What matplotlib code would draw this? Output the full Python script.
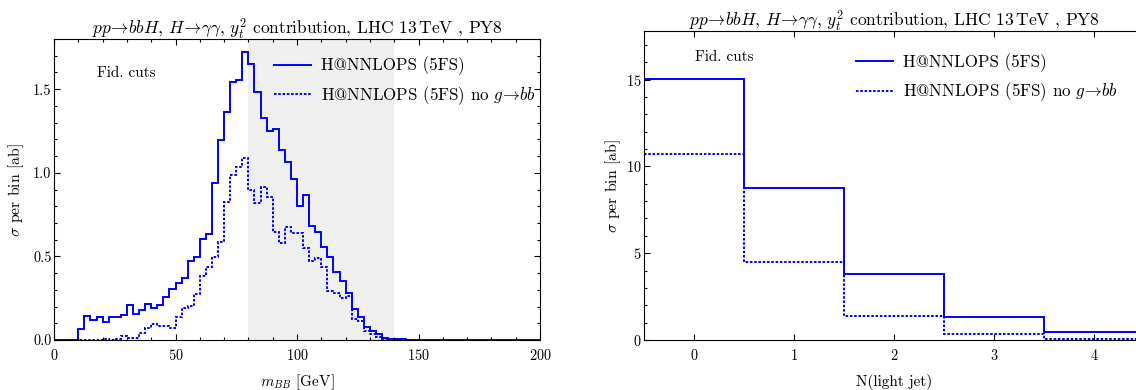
import numpy as np
import matplotlib
matplotlib.use("Agg")
import matplotlib.pyplot as plt
from matplotlib.ticker import MultipleLocator, FormatStrFormatter

plt.rcParams["font.family"] = ["cmr10", "DejaVu Serif"]
plt.rcParams["mathtext.fontset"] = "cm"
plt.rcParams["axes.unicode_minus"] = False
plt.rcParams["axes.formatter.use_mathtext"] = True

# m_BB histogram, 2.5 GeV bins from 0 to 200
mbb_edges = np.arange(0, 200.1, 2.5)
mbb_full = [
    0, 0, 0, 0, 0.068, 0.144, 0.12, 0.14, 0.108, 0.14,
    0.14, 0.15, 0.208, 0.154, 0.178, 0.218, 0.194, 0.208, 0.256, 0.306,
    0.338, 0.368, 0.472, 0.494, 0.606, 0.632, 0.94, 1.198, 1.362, 1.542,
    1.552, 1.724, 1.648, 1.482, 1.33, 1.248, 1.262, 1.138, 1.062, 0.964,
    0.8, 0.868, 0.682, 0.644, 0.558, 0.498, 0.408, 0.354, 0.28, 0.188,
    0.14, 0.08, 0.054, 0.034, 0.014, 0.006, 0.003, 0.003, 0.002, 0.002,
    0.002, 0.002, 0.002, 0.002, 0.002, 0.002, 0.002, 0.002, 0.002, 0.002,
    0.002, 0.002, 0.002, 0.002, 0.002, 0.002, 0.002, 0.002, 0.002, 0.002,
]
mbb_nog2bb = [
    0, 0, 0, 0, 0, 0, 0, 0, 0.004, 0.002,
    0.004, 0.024, 0.014, 0.014, 0.044, 0.07, 0.094, 0.084, 0.084, 0.074,
    0.138, 0.194, 0.204, 0.274, 0.38, 0.434, 0.494, 0.584, 0.824, 0.984,
    1.034, 1.09, 0.898, 0.82, 0.914, 0.858, 0.644, 0.578, 0.674, 0.638,
    0.638, 0.55, 0.474, 0.49, 0.438, 0.294, 0.28, 0.25, 0.264, 0.124,
    0.114, 0.054, 0.038, 0.018, 0.008, 0.003, 0.002, 0.002, 0.002, 0.002,
    0.002, 0.002, 0.002, 0.002, 0.002, 0.002, 0.002, 0.002, 0.002, 0.002,
    0.002, 0.002, 0.002, 0.002, 0.002, 0.002, 0.002, 0.002, 0.002, 0.002,
]

# light-jet multiplicity
njet_edges = [-0.5, 0.5, 1.5, 2.5, 3.5, 4.5]
njet_full = [15.04, 8.73, 3.82, 1.34, 0.46]
njet_nog2bb = [10.70, 4.51, 1.40, 0.345, 0.08]

title = (r"$pp\!\to\! bbH$, $H\!\to\!\gamma\gamma$, $y_t^2$ contribution, "
         r"LHC $13\,\mathrm{TeV}$ , PY8")
lab_full = "H@NNLOPS (5FS)"
lab_nog2bb = r"H@NNLOPS (5FS) no $g\!\to\! bb$"

blue = "#0000ff"
dots = (0, (1.3, 0.9))
W, H = 1136, 390

fig = plt.figure(figsize=(W / 100, H / 100), dpi=100)


def px_axes(x0, x1, ytop, ybot):
    return fig.add_axes([x0 / W, 1 - ybot / H, (x1 - x0) / W, (ybot - ytop) / H])


def style(ax):
    ax.tick_params(which="both", direction="in", top=True, right=True,
                   labelsize=10.3, width=0.8)
    ax.tick_params(which="major", length=4.5)
    ax.tick_params(which="minor", length=2.3)
    ax.tick_params(axis="x", pad=6)
    ax.tick_params(axis="y", pad=1.8)
    for s in ax.spines.values():
        s.set_linewidth(0.8)


def add_legend(ax, x, y):
    ax.legend(loc="upper left", bbox_to_anchor=(x, y), frameon=False,
              fontsize=12.2, handlelength=2.2, handletextpad=0.6,
              labelspacing=0.5, borderpad=0, borderaxespad=0)


# left: m_BB
ax1 = px_axes(54, 540, 39, 340)
ax1.axvspan(80, 140, color="#efefef", lw=0, zorder=0)
ax1.stairs(mbb_full, mbb_edges, baseline=None, color=blue, lw=1.4, label=lab_full)
ax1.stairs(mbb_nog2bb, mbb_edges, baseline=None, color=blue, lw=1.4, ls=dots,
           label=lab_nog2bb)
ax1.set_xlim(0, 200)
ax1.set_ylim(0, 1.8)
ax1.xaxis.set_major_locator(MultipleLocator(50))
ax1.xaxis.set_minor_locator(MultipleLocator(10))
ax1.yaxis.set_major_locator(MultipleLocator(0.5))
ax1.yaxis.set_minor_locator(MultipleLocator(0.1))
ax1.yaxis.set_major_formatter(FormatStrFormatter("%.1f"))
style(ax1)
ax1.text(0.089, 0.885, "Fid. cuts", transform=ax1.transAxes, fontsize=10.9,
         va="center", ha="left")
add_legend(ax1, 0.452, 0.941)

# right: N(light jet)
ax2 = px_axes(644, 1144, 31, 340)
ax2.stairs(njet_full, njet_edges, baseline=None, color=blue, lw=1.4, label=lab_full)
ax2.stairs(njet_nog2bb, njet_edges, baseline=None, color=blue, lw=1.4, ls=dots,
           label=lab_nog2bb)
ax2.set_xlim(-0.5, 4.5)
ax2.set_ylim(0, 17.8)
ax2.xaxis.set_major_locator(MultipleLocator(1))
ax2.yaxis.set_major_locator(MultipleLocator(5))
ax2.yaxis.set_minor_locator(MultipleLocator(1))
style(ax2)
ax2.text(0.102, 0.915, "Fid. cuts", transform=ax2.transAxes, fontsize=10.9,
         va="center", ha="left")
add_legend(ax2, 0.424, 0.927)

# titles and axis labels
fig.text(297 / W, 1 - 29 / H, title, ha="center", va="center", fontsize=12.5)
fig.text(894 / W, 1 - 21 / H, title, ha="center", va="center", fontsize=12.5)
fig.text(297 / W, 1 - 382 / H, r"$m_{BB}$ [GeV]", ha="center", va="center",
         fontsize=11)
fig.text(894 / W, 1 - 382 / H, "N(light jet)", ha="center", va="center",
         fontsize=11)
fig.text(16 / W, 1 - 190 / H, r"$\sigma$ per bin [ab]", ha="center", va="center",
         rotation=90, fontsize=11.3)
fig.text(613 / W, 1 - 186 / H, r"$\sigma$ per bin [ab]", ha="center", va="center",
         rotation=90, fontsize=11.3)

fig.savefig("out.png", dpi=100)
